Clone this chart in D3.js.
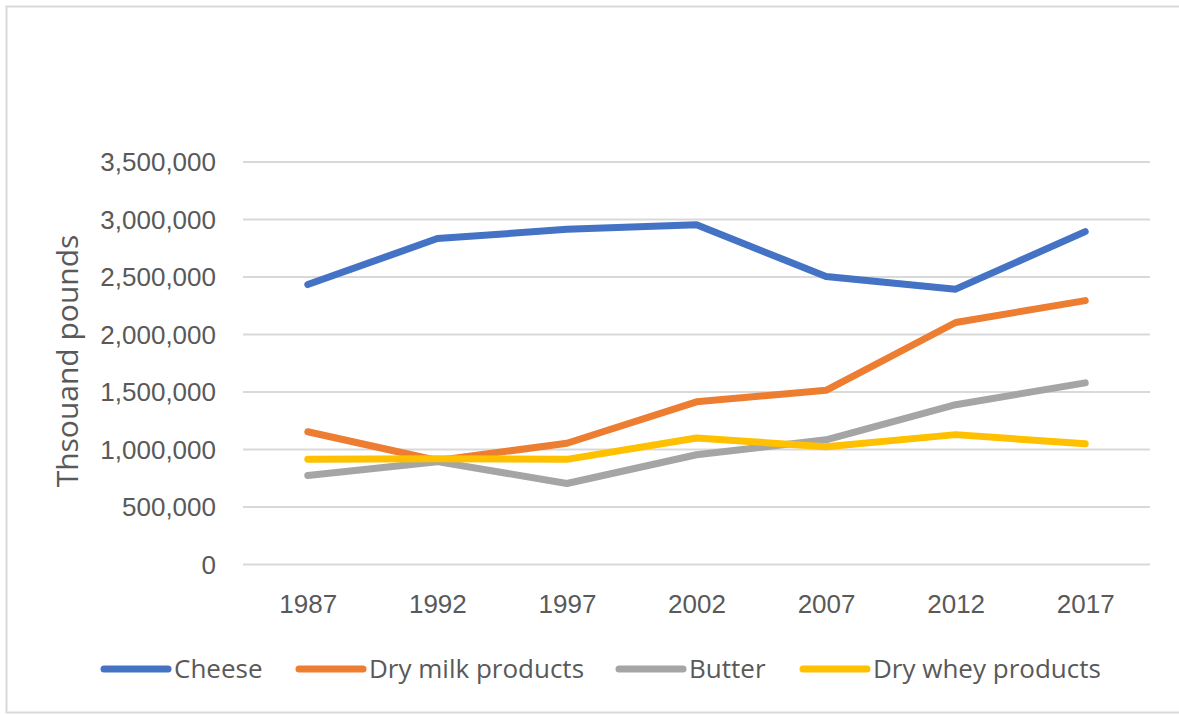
<!DOCTYPE html>
<html>
<head>
<meta charset="utf-8">
<script src="https://cdn.jsdelivr.net/npm/d3@7"></script>
<style>
  body { margin: 0; background: #fff; }
  svg { display: block; font-family: "Open Sans", sans-serif; }
  .axis text { fill: #595959; font-size: 26px; }
  .axis .domain { display: none; }
</style>
</head>
<body>
<svg width="1179" height="715"></svg>
<script>
// chart data
var years = ["1987", "1992", "1997", "2002", "2007", "2012", "2017"];
var cheese = [2430000, 2830000, 2910000, 2950000, 2500000, 2390000, 2890000];
var dryMilk = [1150000, 900000, 1050000, 1410000, 1510000, 2100000, 2290000];
var butter = [770000, 890000, 700000, 950000, 1080000, 1385000, 1575000];
var dryWhey = [910000, 915000, 910000, 1095000, 1020000, 1125000, 1045000];
var seriesNames = ["Cheese", "Dry milk products", "Butter", "Dry whey products"];
var yTicks = [0, 500000, 1000000, 1500000, 2000000, 2500000, 3000000, 3500000];

var colors = ["#4472C4", "#ED7D31", "#A5A5A5", "#FFC000"];
var series = [cheese, dryMilk, butter, dryWhey].map(function(vals, i) {
  return { name: seriesNames[i], color: colors[i], values: vals };
});

var svg = d3.select("svg");

// outer frame
svg.append("rect")
  .attr("x", 6.5).attr("y", 6.5)
  .attr("width", 1180).attr("height", 706)
  .attr("fill", "none")
  .attr("stroke", "#D9D9D9")
  .attr("stroke-width", 2);

var x = d3.scalePoint().domain(years).range([243, 1150]).padding(0.5);
var y = d3.scaleLinear().domain([0, 3500000]).range([564, 161.5]);

// y axis + gridlines
var yAxis = svg.append("g")
  .attr("class", "axis")
  .attr("transform", "translate(243,0)")
  .call(d3.axisLeft(y).tickValues(yTicks).tickSize(-907).tickPadding(27)
    .tickFormat(d3.format(",")));
yAxis.selectAll(".tick line").attr("stroke", "#D9D9D9").attr("stroke-width", 2);
yAxis.selectAll(".tick text").attr("dy", "0.36em");

// x axis labels
var xAxis = svg.append("g")
  .attr("class", "axis")
  .attr("transform", "translate(0,564)")
  .call(d3.axisBottom(x).tickSize(0).tickPadding(0));
xAxis.selectAll(".tick text").attr("dy", null).attr("y", 48.5);

// y title
svg.append("text")
  .attr("transform", "translate(78,361) rotate(-90)")
  .attr("text-anchor", "middle")
  .attr("fill", "#595959")
  .style("font-size", "30px")
  .text("Thsouand pounds");

var line = d3.line()
  .x(function(d, i) { return x(years[i]); })
  .y(function(d) { return y(d); });

svg.selectAll(".series")
  .data(series)
  .enter().append("path")
    .attr("class", "series")
    .attr("d", function(d) { return line(d.values); })
    .attr("fill", "none")
    .attr("stroke", function(d) { return d.color; })
    .attr("stroke-width", 7)
    .attr("stroke-linecap", "round")
    .attr("stroke-linejoin", "round");

// legend
var legendX = [101, 296, 616, 800];
var legend = svg.selectAll(".legend")
  .data(series)
  .enter().append("g")
    .attr("class", "legend")
    .attr("transform", function(d, i) { return "translate(" + legendX[i] + ",669)"; });

legend.append("line")
  .attr("x1", 3).attr("x2", 67)
  .attr("stroke", function(d) { return d.color; })
  .attr("stroke-width", 7)
  .attr("stroke-linecap", "round");

legend.append("text")
  .attr("x", 73)
  .attr("y", 9)
  .attr("fill", "#595959")
  .style("font-size", "26px")
  .text(function(d) { return d.name; });
</script>
</body>
</html>
